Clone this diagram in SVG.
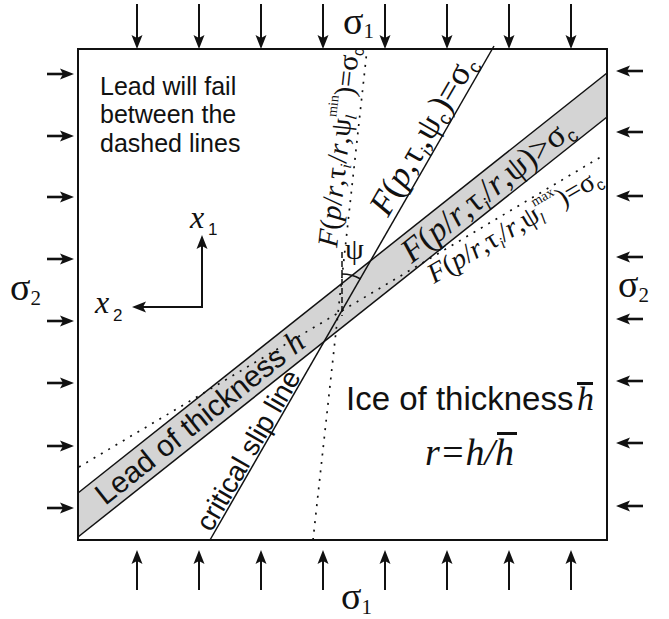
<svg xmlns="http://www.w3.org/2000/svg" width="669" height="619" viewBox="0 0 669 619">
<style>
.ser{font-family:"Liberation Serif","Times New Roman",serif;fill:#111}
.sans{font-family:"Liberation Sans",Arial,sans-serif;fill:#111}
.it{font-style:italic}
.ln{stroke:#111;stroke-width:1.5;fill:none}
.dot{stroke:#111;stroke-width:1.7;fill:none;stroke-dasharray:2 6.5}
.arr{stroke:#111;stroke-width:2;fill:none;marker-end:url(#ah)}
.arr2{stroke:#111;stroke-width:2.6;fill:none;marker-end:url(#ah)}
</style>
<defs>
<marker id="ah" viewBox="-16 -7 17 14" refX="-6" refY="0" markerWidth="17" markerHeight="14" markerUnits="userSpaceOnUse" orient="auto">
<path d="M0,0 L-14,-5.5 L-11,0 L-14,5.5 Z" fill="#111"/>
</marker>
</defs>

<g id="lead-band">
<polygon points="78,493 607,73 607,117 78,537" fill="#d4d4d4"/>
<line class="ln" x1="78" y1="493" x2="607" y2="73"/>
<line class="ln" x1="78" y1="537" x2="607" y2="117"/>
</g>

<g id="connectors">
<line class="dot" x1="313" y1="540" x2="367" y2="50"/>
<line class="dot" x1="79" y1="467" x2="604" y2="155"/>
<line class="ln" x1="210" y1="540" x2="494" y2="46"/>
<line class="ln" x1="342" y1="252" x2="342" y2="316" stroke-dasharray="6 3"/>
<path class="ln" d="M342,274 A37,37 0 0 1 360.5,279"/>
</g>

<g id="box">
<rect x="78" y="49" width="529" height="491" fill="none" stroke="#111" stroke-width="2"/>
</g>

<g id="arrows-top">
<line class="arr" x1="137" y1="4" x2="137" y2="43"/>
<line class="arr" x1="199" y1="4" x2="199" y2="43"/>
<line class="arr" x1="261" y1="4" x2="261" y2="43"/>
<line class="arr" x1="323" y1="4" x2="323" y2="43"/>
<line class="arr" x1="385" y1="4" x2="385" y2="43"/>
<line class="arr" x1="447" y1="4" x2="447" y2="43"/>
<line class="arr" x1="509" y1="4" x2="509" y2="43"/>
<line class="arr" x1="571" y1="4" x2="571" y2="43"/>
</g>
<g id="arrows-bottom">
<line class="arr" x1="137" y1="590" x2="137" y2="556"/>
<line class="arr" x1="199" y1="590" x2="199" y2="556"/>
<line class="arr" x1="261" y1="590" x2="261" y2="556"/>
<line class="arr" x1="323" y1="590" x2="323" y2="556"/>
<line class="arr" x1="385" y1="590" x2="385" y2="556"/>
<line class="arr" x1="447" y1="590" x2="447" y2="556"/>
<line class="arr" x1="509" y1="590" x2="509" y2="556"/>
<line class="arr" x1="571" y1="590" x2="571" y2="556"/>
</g>
<g id="arrows-left">
<line class="arr2" x1="47" y1="74" x2="68" y2="74"/>
<line class="arr2" x1="47" y1="136" x2="68" y2="136"/>
<line class="arr2" x1="47" y1="197" x2="68" y2="197"/>
<line class="arr2" x1="47" y1="259" x2="68" y2="259"/>
<line class="arr2" x1="47" y1="321" x2="68" y2="321"/>
<line class="arr2" x1="47" y1="383" x2="68" y2="383"/>
<line class="arr2" x1="47" y1="446" x2="68" y2="446"/>
<line class="arr2" x1="47" y1="508" x2="68" y2="508"/>
</g>
<g id="arrows-right">
<line class="arr2" x1="643" y1="71" x2="622" y2="71"/>
<line class="arr2" x1="643" y1="132" x2="622" y2="132"/>
<line class="arr2" x1="643" y1="196" x2="622" y2="196"/>
<line class="arr2" x1="643" y1="257" x2="622" y2="257"/>
<line class="arr2" x1="643" y1="319" x2="622" y2="319"/>
<line class="arr2" x1="643" y1="381" x2="622" y2="381"/>
<line class="arr2" x1="643" y1="443" x2="622" y2="443"/>
<line class="arr2" x1="643" y1="506" x2="622" y2="506"/>
</g>

<g id="axes">
<line class="arr" x1="202" y1="308" x2="202" y2="241"/>
<line class="arr" x1="203" y1="307" x2="138" y2="307"/>
<text class="ser it" x="190" y="228" font-size="32">x</text>
<text class="sans" x="208" y="235" font-size="17">1</text>
<text class="ser it" x="95" y="313" font-size="32">x</text>
<text class="sans" x="113" y="321" font-size="17">2</text>
</g>

<g id="stress-labels">
<text class="ser" x="343" y="34" font-size="38">σ<tspan font-size="21" dy="4">1</tspan></text>
<text class="ser" x="341" y="609" font-size="38">σ<tspan font-size="21" dy="5">1</tspan></text>
<text class="ser" x="10" y="300" font-size="38">σ<tspan font-size="21" dy="5">2</tspan></text>
<text class="ser" x="618" y="297" font-size="38">σ<tspan font-size="21" dy="5">2</tspan></text>
</g>

<g id="note">
<text class="sans" font-size="25"><tspan x="100" y="95">Lead will fail</tspan><tspan x="100" y="123">between the</tspan><tspan x="100" y="152">dashed lines</tspan></text>
</g>

<g id="ice">
<text class="sans" x="346" y="410" font-size="33">Ice of thickness</text>
<text class="ser it" x="577" y="410" font-size="34">h</text>
<rect x="577" y="382" width="16" height="3" fill="#111"/>
<text class="ser it" x="425" y="465" font-size="38">r=h/h</text>
<rect x="497" y="432" width="20" height="3" fill="#111"/>
</g>

<g id="angle">
<text class="ser" x="345" y="259" font-size="30">ψ</text>
</g>

<g id="label-min" transform="translate(337,248) rotate(-83.7)">
<text class="ser" font-size="29"><tspan class="it">F</tspan>(<tspan class="it">p</tspan>/<tspan class="it">r</tspan>,τ<tspan class="it" font-size="16" dy="5">i</tspan><tspan dy="-5">/</tspan><tspan class="it">r</tspan>,ψ<tspan class="it" font-size="16" dy="5">l</tspan><tspan font-size="14" dx="-4" dy="-20">min</tspan><tspan dy="15">)=σ</tspan><tspan class="sans" font-size="16" dy="5">c</tspan></text>
</g>

<g id="label-crit" transform="translate(388,218) rotate(-60)">
<text class="ser" font-size="35"><tspan class="it">F</tspan>(<tspan class="it">p</tspan>,τ<tspan class="it" font-size="19" dy="6">i</tspan><tspan dy="-6">,ψ</tspan><tspan class="sans" font-size="19" dy="6">c</tspan><tspan dy="-6">)=σ</tspan><tspan class="sans" font-size="19" dy="6">c</tspan></text>
</g>

<g id="label-band" transform="translate(487,190) rotate(-38.5)">
<text class="ser" font-size="34" text-anchor="middle" y="11"><tspan class="it">F</tspan>(<tspan class="it">p</tspan>/<tspan class="it">r</tspan>,τ<tspan class="it" font-size="19" dy="6">i</tspan><tspan dy="-6">/</tspan><tspan class="it">r</tspan>,ψ)&gt;σ<tspan class="sans" font-size="19" dy="6">c</tspan></text>
</g>

<g id="label-max" transform="translate(434,284) rotate(-30.7)">
<text class="ser" font-size="28"><tspan class="it">F</tspan>(<tspan class="it">p</tspan>/<tspan class="it">r</tspan>,τ<tspan class="it" font-size="16" dy="5">i</tspan><tspan dy="-5">/</tspan><tspan class="it">r</tspan>,ψ<tspan class="it" font-size="16" dy="5">l</tspan><tspan font-size="14" dx="-4" dy="-20">max</tspan><tspan dy="15">)=σ</tspan><tspan class="sans" font-size="16" dy="5">c</tspan></text>
</g>

<g id="label-lead" transform="translate(200,418) rotate(-38.5)">
<text class="sans" font-size="30" text-anchor="middle" y="10">Lead of thickness <tspan class="ser it" font-size="32">h</tspan></text>
</g>

<g id="label-slip" transform="translate(213,534) rotate(-60)">
<text class="sans" font-size="28" y="-2">critical slip line</text>
</g>
</svg>
